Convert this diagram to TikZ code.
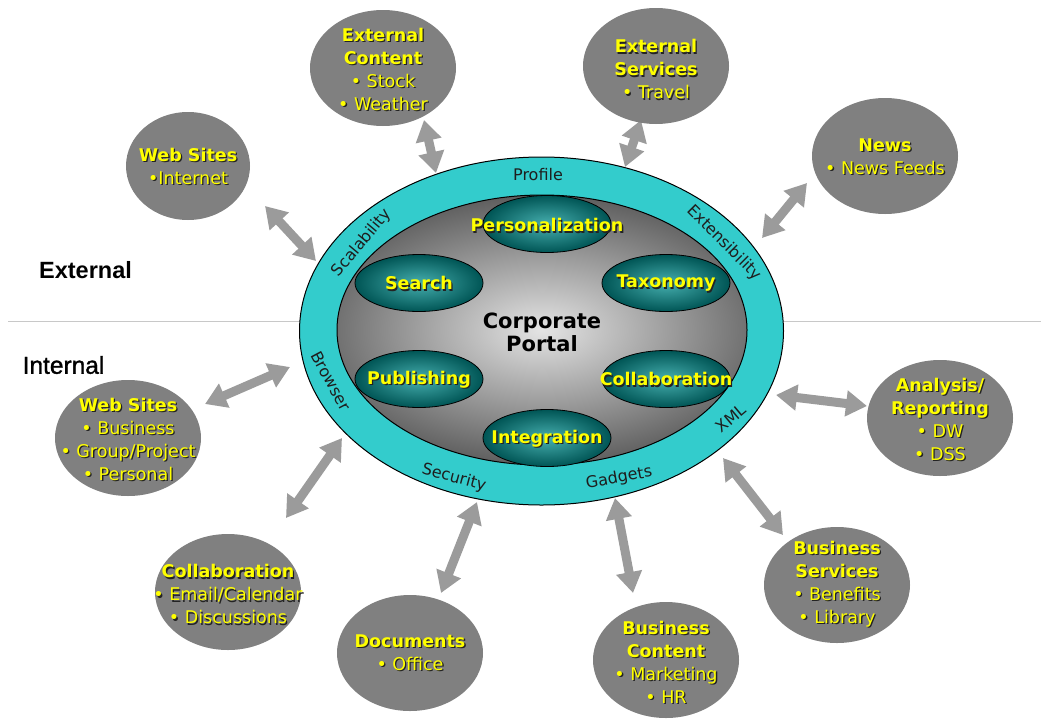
\documentclass[tikz,border=0pt]{standalone}
\usepackage{fontspec}
\setmainfont{DejaVu Sans}
\newfontfamily\arialf{Liberation Sans}
\newfontfamily\arialsemi[FakeBold=1.2]{Liberation Sans}
\usetikzlibrary{shapes.geometric,arrows.meta}
\definecolor{ringteal}{RGB}{51,204,204}
\definecolor{nodegray}{RGB}{128,128,128}
\definecolor{arrowgray}{RGB}{155,155,155}
\definecolor{yel}{RGB}{255,255,0}
\definecolor{shadowc}{RGB}{35,35,35}
\definecolor{ringtext}{RGB}{30,30,30}
\definecolor{tealin}{RGB}{70,175,175}
\definecolor{tealout}{RGB}{0,85,85}
\definecolor{grayin}{RGB}{228,228,228}
\definecolor{grayout}{RGB}{80,80,80}
\definecolor{sepline}{RGB}{200,200,200}
\newcommand\shd[1]{\leavevmode\rlap{\kern1.3pt\raisebox{-1.3pt}{\color{shadowc}#1}}#1}
\newcommand\ttl[1]{\shd{\textbf{#1}}}
\begin{document}
\begin{tikzpicture}[x=1pt,y=-1pt,
  outer/.style={ellipse, fill=nodegray, inner sep=0pt, minimum width=146pt, minimum height=116pt},
  otext/.style={text=yel, align=center, font=\fontsize{17.5}{23}\selectfont, inner sep=0pt},
  tealell/.style={ellipse, draw=black, line width=0.8pt, shading=radial, inner color=tealin, outer color=tealout, minimum width=128pt, minimum height=57pt, inner sep=0pt},
  itext/.style={text=yel, font=\bfseries\fontsize{17.5}{21}\selectfont, inner sep=0pt},
  ringlab/.style={text=ringtext, font=\fontsize{16}{18}\selectfont, inner sep=0pt},
  conn/.style={draw=arrowgray, line width=9pt, {Triangle[length=21pt,width=25pt]}-{Triangle[length=21pt,width=25pt]}}
]
\useasboundingbox (0,0) rectangle (1041,718);

% separator line
\coordinate (sepL) at (8,321);
\coordinate (sepR) at (1041,321);
\draw[sepline, line width=1pt] (sepL) -- (sepR);
\node[font=\arialf\bfseries\fontsize{23.5}{26}\selectfont, inner sep=0pt] (extlab) at (85.5,270) {External};
\node[font=\arialsemi\fontsize{24.5}{26}\selectfont, inner sep=0pt] (intlab) at (63.5,365) {Internal};

% arrow end points
\coordinate (a1s) at (265,206); \coordinate (a1e) at (316,261);
\coordinate (a2s) at (424,120); \coordinate (a2e) at (436,173);
\coordinate (a3s) at (641,120); \coordinate (a3e) at (625,167);
\coordinate (a4s) at (807,183); \coordinate (a4e) at (762,238);
\coordinate (a5s) at (776,395); \coordinate (a5e) at (867,406);
\coordinate (a6s) at (723,458); \coordinate (a6e) at (783,535);
\coordinate (a7s) at (615,498); \coordinate (a7e) at (633,593);
\coordinate (a8s) at (477,502); \coordinate (a8e) at (441,593);
\coordinate (a9s) at (342,438); \coordinate (a9e) at (286,518);
\coordinate (a10s) at (290,367); \coordinate (a10e) at (205,404);
\foreach \i in {1,...,10} {\draw[conn] (a\i s) -- (a\i e);}

% central ring
\node[ellipse, fill=ringteal, draw=black, line width=1pt, minimum width=484pt, minimum height=348pt, inner sep=0pt] (ring) at (541.5,331) {};
\node[ellipse, draw=black, line width=1pt, minimum width=410pt, minimum height=270pt, inner sep=0pt,
  path picture={\shade[inner color=grayin, outer color=grayout] (path picture bounding box.center) ellipse [x radius=265pt, y radius=150pt];}] (core) at (542,330) {};

% ring labels
\node[ringlab] (lprof) at (538,175) {Profile};
\node[ringlab, rotate=50] (lscal) at (362,243) {Scalability};
\node[ringlab, rotate=-45] (lext) at (724,243) {Extensibility};
\node[ringlab, rotate=-62] (lbrow) at (331,381) {Browser};
\node[ringlab, rotate=40] (lxml) at (731,418) {XML};
\node[ringlab, rotate=-15] (lsec) at (454,478) {Security};
\node[ringlab, rotate=10] (lgad) at (619,478) {Gadgets};

% inner modules
\node[tealell] (pers) at (547,224) {};
\node[tealell] (srch) at (419,283) {};
\node[tealell] (taxo) at (666,283) {};
\node[tealell] (publ) at (419,379) {};
\node[tealell] (coll) at (666,379) {};
\node[tealell] (integ) at (547,438) {};
\node[itext] (perst) at (547,226) {\shd{Personalization}};
\node[itext] (srcht) at (419,284) {\shd{Search}};
\node[itext] (taxot) at (666,284) {\shd{Taxonomy}};
\node[itext] (publt) at (419,380) {\shd{Publishing}};
\node[itext] (collt) at (666,380) {\shd{Collaboration}};
\node[itext] (integt) at (547,439) {\shd{Integration}};
\node[font=\bfseries\fontsize{21}{23}\selectfont, align=center, inner sep=0pt] (cp) at (542,332) {Corporate\\Portal};

% outer nodes
\node[outer, minimum width=124pt, minimum height=108pt] (ws1) at (188,166) {};
\node[otext] (ws1t) at (188,167) {\ttl{Web Sites}\\\shd{•Internet}};
\node[outer] (ec) at (383,68) {};
\node[otext] (ect) at (383,70) {\ttl{External}\\\ttl{Content}\\\shd{• Stock}\\\shd{• Weather}};
\node[outer] (es) at (656,66) {};
\node[otext] (est) at (656,70) {\ttl{External}\\\ttl{Services}\\\shd{• Travel}};
\node[outer] (nw) at (885,156) {};
\node[otext] (nwt) at (885,157) {\ttl{News}\\\shd{• News Feeds}};
\node[outer] (ar) at (940,418) {};
\node[otext] (art) at (940,420) {\ttl{Analysis/}\\\ttl{Reporting}\\\shd{• DW}\\\shd{• DSS}};
\node[outer] (bs) at (837,585) {};
\node[otext] (bst) at (837,585) {\ttl{Business}\\\ttl{Services}\\\shd{• Benefits}\\\shd{• Library}};
\node[outer] (bc) at (666,660) {};
\node[otext] (bct) at (666,663) {\ttl{Business}\\\ttl{Content}\\\shd{• Marketing}\\\shd{• HR}};
\node[outer] (dc) at (410,653) {};
\node[otext] (dct) at (410,653) {\ttl{Documents}\\\shd{• Office}};
\node[outer] (co) at (228,592) {};
\node[otext] (cot) at (228,595) {\ttl{Collaboration}\\\shd{• Email/Calendar}\\\shd{• Discussions}};
\node[outer] (ws2) at (128,438) {};
\node[otext] (ws2t) at (128,440) {\ttl{Web Sites}\\\shd{• Business}\\\shd{• Group/Project}\\\shd{• Personal}};
\end{tikzpicture}
\end{document}
